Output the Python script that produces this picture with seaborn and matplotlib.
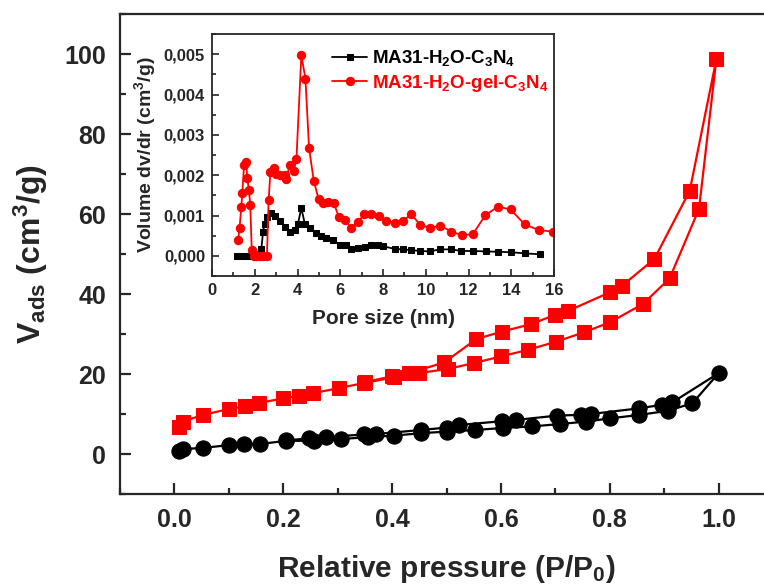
import numpy as np
import pandas as pd
import matplotlib
matplotlib.use("Agg")
import matplotlib.pyplot as plt
import seaborn as sns
from matplotlib.ticker import MultipleLocator, FuncFormatter

# ---------------- data: main isotherms ----------------
red_ads_x = [0.008, 0.015, 0.052, 0.10, 0.129, 0.156, 0.199, 0.229, 0.255, 0.303, 0.349, 0.404,
             0.45, 0.502, 0.551, 0.60, 0.649, 0.702, 0.752, 0.80, 0.861, 0.91, 0.964, 0.996]
red_ads_y = [6.7, 8.1, 9.75, 11.25, 11.9, 12.75, 13.9, 14.6, 15.2, 16.5, 17.75, 19.2,
             20.25, 21.25, 22.75, 24.4, 26.0, 28.1, 30.4, 32.9, 37.5, 43.9, 61.25, 98.75]
red_des_x = [0.996, 0.947, 0.882, 0.823, 0.80, 0.723, 0.699, 0.656, 0.602, 0.555, 0.496,
             0.432, 0.40, 0.35]
red_des_y = [98.75, 65.8, 48.75, 42.1, 40.4, 35.75, 34.75, 32.5, 30.6, 28.75, 22.9,
             20.25, 19.4, 18.0]

blk_ads_x = [0.008, 0.015, 0.052, 0.101, 0.127, 0.158, 0.205, 0.257, 0.306, 0.355, 0.404,
             0.453, 0.50, 0.553, 0.603, 0.658, 0.709, 0.756, 0.80, 0.853, 0.907, 0.952, 1.0]
blk_ads_y = [0.8, 1.25, 1.5, 2.25, 2.5, 2.5, 3.3, 3.3, 3.75, 4.2, 4.6,
             5.2, 5.6, 6.0, 6.5, 6.9, 7.5, 8.1, 8.9, 9.75, 10.8, 12.7, 20.2]
blk_des_x = [1.0, 0.915, 0.896, 0.853, 0.766, 0.748, 0.703, 0.627, 0.602, 0.523, 0.50,
             0.453, 0.371, 0.349, 0.279, 0.247, 0.205]
blk_des_y = [20.2, 12.9, 12.3, 11.4, 10.0, 9.8, 9.6, 8.5, 8.2, 7.25, 6.6,
             6.0, 5.0, 4.9, 4.2, 3.9, 3.4]

# ---------------- data: inset pore size distribution ----------------
psd_blk_x = [1.17, 1.35, 1.53, 1.72, 1.9, 2.0, 2.31, 2.39, 2.46, 2.57, 2.78, 2.93, 3.17, 3.40,
             3.63, 3.87, 4.02, 4.18, 4.34, 4.60, 4.88, 5.11, 5.35, 5.66, 5.97, 6.28,
             6.52, 6.83, 7.14, 7.45, 7.77, 8.0, 8.55, 8.94, 9.33, 9.75, 10.18, 10.68,
             11.2, 11.66, 12.21, 12.8, 13.38, 14.0, 14.63, 15.33]
psd_blk_y = [0.0, 0.0, 0.0, 0.0, 0.0, 0.00001, 0.00018, 0.0006, 0.0008, 0.00097, 0.00105,
             0.001, 0.00087, 0.00072, 0.0006, 0.00064, 0.0008, 0.00118, 0.0008, 0.00068,
             0.00057, 0.00049, 0.00045, 0.00039, 0.00028, 0.00026, 0.00018, 0.0002,
             0.00022, 0.00026, 0.00028, 0.00024, 0.00017, 0.00016, 0.00014, 0.00012,
             0.00011, 0.00016, 0.00016, 0.00012, 0.00012, 0.00011, 0.0001, 0.00009,
             0.00006, 0.00004]
psd_red_x = [1.22, 1.29, 1.37, 1.42, 1.5, 1.6, 1.65, 1.73, 1.79, 1.86, 1.95, 2.07, 2.23,
             2.39, 2.57, 2.65, 2.73, 2.88, 2.98, 3.2, 3.4, 3.48, 3.63, 3.82, 3.95, 4.18,
             4.37, 4.54, 4.76, 4.99, 5.19, 5.43, 5.69, 5.93, 6.24, 6.52, 6.83, 7.11,
             7.45, 7.81, 8.16, 8.55, 8.94, 9.33, 9.75, 10.21, 10.68, 11.2, 11.7, 12.21,
             12.79, 13.38, 13.97, 14.63, 15.28, 15.95]
psd_red_y = [0.00039, 0.0007, 0.0012, 0.00157, 0.00225, 0.00233, 0.00192, 0.00163, 0.00126,
             0.00014, 0.0, 0.0, 0.0, 0.0, 0.0, 0.00138, 0.00207, 0.00219, 0.00204, 0.002,
             0.002, 0.0019, 0.00225, 0.0021, 0.0024, 0.00498, 0.00439, 0.00268, 0.00186,
             0.0014, 0.0013, 0.00134, 0.00132, 0.00097, 0.0009, 0.00068, 0.00083, 0.00103,
             0.00103, 0.001, 0.00087, 0.00082, 0.00087, 0.00103, 0.00076, 0.0007, 0.00075,
             0.0006, 0.00051, 0.00054, 0.00101, 0.00122, 0.00115, 0.00078, 0.00064, 0.0006]

label_blk = r"MA31-H$_2$O-C$_3$N$_4$"
label_red = r"MA31-H$_2$O-gel-C$_3$N$_4$"

RED = "#ff0000"
BLK = "#000000"

sns.set_style("ticks")
plt.rcParams["font.family"] = ["Liberation Sans", "DejaVu Sans"]
plt.rcParams["font.weight"] = "bold"
plt.rcParams["mathtext.default"] = "regular"
plt.rcParams["axes.linewidth"] = 1.6

fig = plt.figure(figsize=(7.64, 5.85), dpi=100)
ax = fig.add_axes([120 / 764, 1 - 494 / 585, 653 / 764, 480 / 585])

red_df = pd.DataFrame({"x": red_ads_x + red_des_x[1:], "y": red_ads_y + red_des_y[1:]})
blk_df = pd.DataFrame({"x": blk_ads_x + blk_des_x[1:], "y": blk_ads_y + blk_des_y[1:]})

sns.lineplot(data=blk_df, x="x", y="y", sort=False, estimator=None, ax=ax, color=BLK,
             marker="o", markersize=11, markeredgecolor=BLK, linewidth=1.6)
sns.lineplot(data=red_df, x="x", y="y", sort=False, estimator=None, ax=ax, color=RED,
             marker="s", markersize=9.5, markeredgecolor=RED, linewidth=1.6)

ax.set_xlim(-0.1, 1.1)
ax.set_ylim(-10, 110)
ax.xaxis.set_major_locator(MultipleLocator(0.2))
ax.xaxis.set_minor_locator(MultipleLocator(0.1))
ax.yaxis.set_major_locator(MultipleLocator(20))
ax.yaxis.set_minor_locator(MultipleLocator(10))
ax.xaxis.set_major_formatter(FuncFormatter(lambda v, p: f"{v:.1f}"))
ax.tick_params(which="both", direction="in", top=False, right=False, labelsize=18, width=1.6)
ax.tick_params(which="major", length=8, pad=10)
ax.tick_params(which="minor", length=4)
for t in ax.get_xticklabels() + ax.get_yticklabels():
    t.set_fontweight("bold")
ax.set_xlabel("Relative pressure (P/P$_0$)", fontsize=21.5, fontweight="bold", labelpad=15)
ax.set_ylabel(r"V$_{ads}$ (cm$^3$/g)", fontsize=23, fontweight="bold", labelpad=10)

# ---------------- inset ----------------
axi = fig.add_axes([212 / 764, 1 - 276 / 585, 342 / 764, 242 / 585])
sns.lineplot(x=psd_blk_x, y=psd_blk_y, sort=False, estimator=None, ax=axi, color=BLK,
             marker="s", markersize=5, markeredgecolor=BLK, linewidth=1.3, label=label_blk)
sns.lineplot(x=psd_red_x, y=psd_red_y, sort=False, estimator=None, ax=axi, color=RED,
             marker="o", markersize=6, markeredgecolor=RED, linewidth=1.3, label=label_red)
axi.set_xlim(0, 16)
axi.set_ylim(-0.0005, 0.0055)
axi.xaxis.set_major_locator(MultipleLocator(2))
axi.xaxis.set_minor_locator(MultipleLocator(1))
axi.yaxis.set_major_locator(MultipleLocator(0.001))
axi.yaxis.set_minor_locator(MultipleLocator(0.0005))
axi.yaxis.set_major_formatter(FuncFormatter(lambda v, p: f"{v:.3f}".replace(".", ",")))
axi.tick_params(which="both", direction="in", labelsize=12, width=1.2)
axi.tick_params(which="major", length=5, pad=5)
axi.tick_params(which="minor", length=3)
for s in axi.spines.values():
    s.set_linewidth(1.3)
for t in axi.get_xticklabels() + axi.get_yticklabels():
    t.set_fontweight("bold")
axi.set_xlabel("Pore size (nm)", fontsize=15, fontweight="bold", labelpad=8)
axi.set_ylabel(r"Volume dv/dr (cm$^3$/g)", fontsize=14, fontweight="bold", labelpad=4)
leg = axi.legend(loc="upper right", frameon=False, fontsize=13.5, handlelength=1.9,
                 handletextpad=0.25, borderaxespad=0.35, labelspacing=0.25,
                 bbox_to_anchor=(1.025, 1.0))
for txt, col in zip(leg.get_texts(), [BLK, RED]):
    txt.set_color(col)
    txt.set_fontweight("bold")

fig.savefig("out.png", dpi=100)
